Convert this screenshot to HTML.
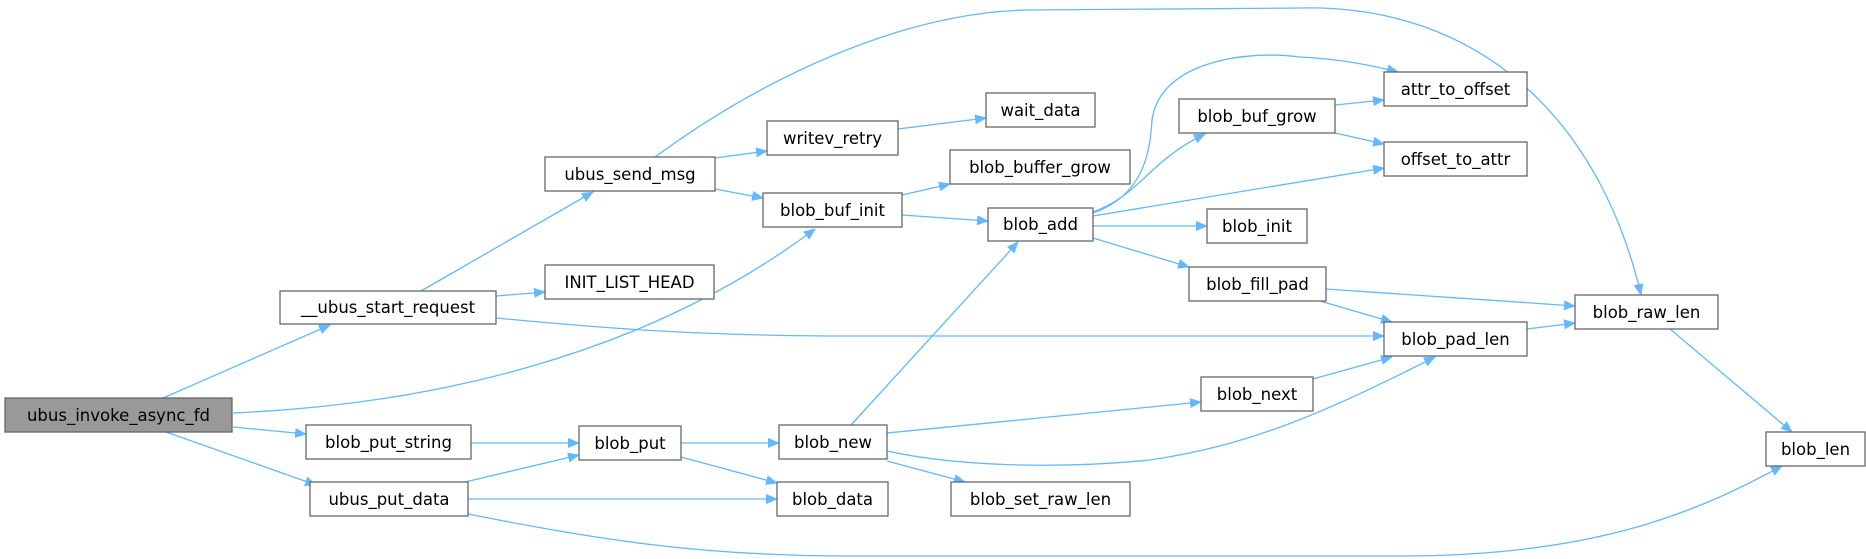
<!DOCTYPE html>
<html><head><meta charset="utf-8"><style>
html,body{margin:0;padding:0;background:#fff;}
svg{display:block;}
text{font-family:"DejaVu Sans","Liberation Sans",sans-serif;font-size:16.5px;fill:#000;}
</style></head><body>
<svg width="1866" height="559" viewBox="0 0 1866 559" xmlns="http://www.w3.org/2000/svg">
<defs>
<marker id="a" markerWidth="12" markerHeight="10" refX="11" refY="5" orient="auto" markerUnits="userSpaceOnUse">
<path d="M0,0 L12,5 L0,10 Z" fill="#63b8ff"/>
</marker>
</defs>
<g fill="none" stroke="#63b8ff" stroke-width="1.3" marker-end="url(#a)">
<path d="M163,398 L330,325"/>
<path d="M233,413 C420,405 640,360 815,229"/>
<path d="M233,427 L306,434"/>
<path d="M166,432 L316,485"/>
<path d="M421,291 L593,192"/>
<path d="M496,296 L545,292"/>
<path d="M496,318 C600,328 700,336 850,336 L1384,336"/>
<path d="M655,157 C760,80 900,12 1030,10 L1300,8 C1480,4 1600,120 1641,295"/>
<path d="M715,158 L767,151"/>
<path d="M715,189 L763,198"/>
<path d="M898,129 L986,118"/>
<path d="M902,195 L950,184"/>
<path d="M902,215 L988,221"/>
<path d="M1093,213 C1145,195 1150,150 1152,120 C1160,60 1250,50 1300,57 C1340,59 1370,65 1398,72"/>
<path d="M1093,212 C1140,195 1150,160 1205,134"/>
<path d="M1093,216 L1384,168"/>
<path d="M1093,226 L1207,226"/>
<path d="M1093,238 L1189,267"/>
<path d="M1335,105 L1384,100"/>
<path d="M1335,133 L1384,144"/>
<path d="M1326,289 L1575,306"/>
<path d="M1320,301 L1392,322"/>
<path d="M1527,329 L1575,323"/>
<path d="M1670,329 L1792,432"/>
<path d="M1313,379 L1392,357"/>
<path d="M851,425 L1018,242"/>
<path d="M887,433 L1201,402"/>
<path d="M887,451 C950,465 1050,470 1150,460 C1250,445 1320,415 1435,357"/>
<path d="M887,461 L965,482"/>
<path d="M471,443 L579,443"/>
<path d="M681,443 L779,443"/>
<path d="M681,457 L777,483"/>
<path d="M465,482 L579,455"/>
<path d="M468,499 L777,499"/>
<path d="M468,514 C600,540 700,556 850,556 L1400,556 C1600,556 1700,510 1782,466"/>
</g>
<g stroke="#666" stroke-width="1.3">
<rect x="5" y="398" width="227" height="34" fill="#999"/>
<rect x="280" y="291" width="216" height="33" fill="#fff"/>
<rect x="545" y="157" width="170" height="34" fill="#fff"/>
<rect x="545" y="265" width="169" height="34" fill="#fff"/>
<rect x="306" y="425" width="165" height="34" fill="#fff"/>
<rect x="310" y="482" width="158" height="34" fill="#fff"/>
<rect x="579" y="426" width="102" height="34" fill="#fff"/>
<rect x="779" y="425" width="108" height="34" fill="#fff"/>
<rect x="777" y="482" width="111" height="34" fill="#fff"/>
<rect x="951" y="482" width="179" height="34" fill="#fff"/>
<rect x="767" y="121" width="131" height="34" fill="#fff"/>
<rect x="986" y="93" width="109" height="34" fill="#fff"/>
<rect x="950" y="150" width="180" height="34" fill="#fff"/>
<rect x="763" y="193" width="139" height="34" fill="#fff"/>
<rect x="988" y="208" width="105" height="33" fill="#fff"/>
<rect x="1384" y="72" width="143" height="34" fill="#fff"/>
<rect x="1179" y="99" width="156" height="34" fill="#fff"/>
<rect x="1384" y="142" width="143" height="34" fill="#fff"/>
<rect x="1207" y="209" width="100" height="34" fill="#fff"/>
<rect x="1189" y="267" width="137" height="34" fill="#fff"/>
<rect x="1384" y="322" width="143" height="34" fill="#fff"/>
<rect x="1575" y="295" width="143" height="34" fill="#fff"/>
<rect x="1201" y="377" width="112" height="34" fill="#fff"/>
<rect x="1766" y="432" width="99" height="34" fill="#fff"/>
</g>
<g text-anchor="middle">
<text x="118.5" y="421">ubus_invoke_async_fd</text>
<text x="388" y="313">__ubus_start_request</text>
<text x="630" y="180">ubus_send_msg</text>
<text x="629.5" y="288">INIT_LIST_HEAD</text>
<text x="388.5" y="448">blob_put_string</text>
<text x="389" y="505">ubus_put_data</text>
<text x="630" y="449">blob_put</text>
<text x="833" y="448">blob_new</text>
<text x="832.5" y="505">blob_data</text>
<text x="1040.5" y="505">blob_set_raw_len</text>
<text x="832.5" y="144">writev_retry</text>
<text x="1040.5" y="116">wait_data</text>
<text x="1040" y="173">blob_buffer_grow</text>
<text x="832.5" y="216">blob_buf_init</text>
<text x="1040.5" y="230">blob_add</text>
<text x="1455.5" y="95">attr_to_offset</text>
<text x="1257" y="122">blob_buf_grow</text>
<text x="1455.5" y="165">offset_to_attr</text>
<text x="1257" y="232">blob_init</text>
<text x="1257.5" y="290">blob_fill_pad</text>
<text x="1455.5" y="345">blob_pad_len</text>
<text x="1646.5" y="318">blob_raw_len</text>
<text x="1257" y="400">blob_next</text>
<text x="1815.5" y="455">blob_len</text>
</g>
</svg>
</body></html>
